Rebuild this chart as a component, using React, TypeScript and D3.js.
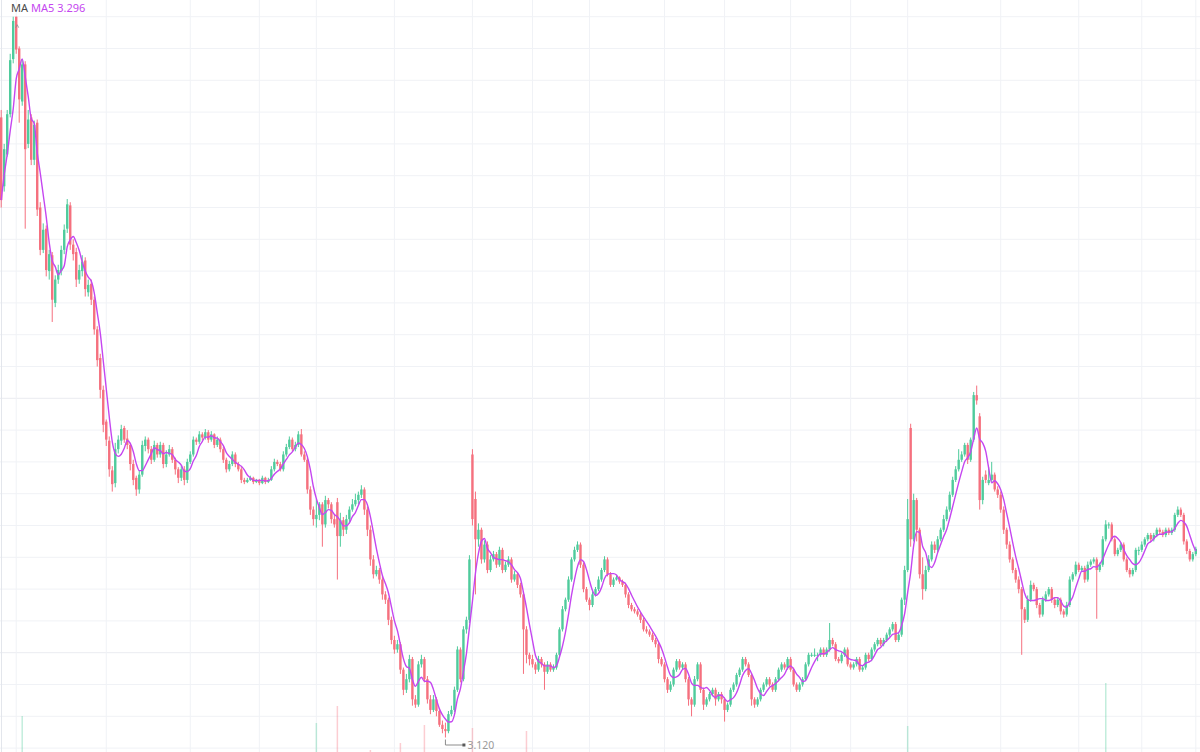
import React from 'react';
import * as d3 from 'd3';

// Prices are stored in thousandths above PRICE_BASE (e.g. 705 -> 3.705)
const PRICE_BASE = 3;

const opens = [
  705,640,670,708,760,800,770,720,755,680,
  705,665,700,620,580,600,560,575,530,552,
  560,580,600,622,585,578,552,560,570,540,
  548,533,505,478,448,418,400,372,360,392,
  400,412,402,396,378,365,354,368,395,401,
  392,382,396,387,396,378,387,392,382,373,
  365,373,363,380,387,401,399,406,403,408,
  401,406,396,401,392,382,373,378,387,378,
  373,363,361,363,365,361,363,360,365,361,
  363,373,380,378,373,387,394,401,392,396,
  406,387,382,354,335,326,330,340,321,344,
  340,326,342,310,325,316,326,335,340,344,
  349,354,335,316,288,274,278,269,255,250,
  231,212,203,208,184,165,175,194,156,151,
  189,194,175,156,146,156,145,132,128,126,
  142,146,165,203,175,222,231,387,345,307,
  316,288,302,278,288,293,283,297,278,283,
  288,269,274,264,255,222,198,194,189,184,
  194,189,182,189,184,186,198,222,241,250,
  269,288,297,302,283,260,250,245,255,260,
  269,278,288,274,264,269,271,267,264,255,
  245,241,239,236,231,222,220,217,212,208,
  194,189,175,165,170,184,192,186,189,175,
  156,151,175,189,165,151,156,161,165,156,
  161,156,146,151,165,170,179,184,194,189,
  179,156,151,156,165,170,175,170,165,175,
  184,189,186,194,184,170,165,170,175,189,
  198,198,198,198,203,198,203,212,208,194,
  192,198,203,189,186,189,194,184,186,198,
  194,203,208,212,208,212,217,222,227,212,
  217,250,278,412,307,344,316,274,260,278,
  288,302,297,307,316,326,335,349,363,373,
  382,387,396,382,401,443,423,344,368,360,
  363,368,354,349,335,316,302,288,278,269,
  260,241,231,250,264,260,245,236,250,255,
  260,250,245,250,239,236,245,269,274,283,
  278,280,269,283,286,288,278,283,307,321,
  321,307,293,297,302,288,278,274,278,297,
  297,302,307,311,307,311,316,314,311,316,
  313,316,330,335,330,305,296,288,293,
];

const highs = [
  712,680,712,765,800,800,772,760,758,712,
  708,702,703,625,605,603,580,578,556,566,
  584,604,628,625,590,582,566,575,573,552,
  552,536,508,482,452,420,404,376,398,405,
  415,414,410,398,382,367,372,400,404,403,
  395,400,398,399,398,391,396,394,384,375,
  377,376,383,390,404,403,409,408,411,410,
  409,407,404,403,394,384,381,390,389,380,
  375,365,365,367,366,364,364,367,366,365,
  376,383,382,380,390,397,404,403,399,409,
  411,390,384,357,338,345,342,342,348,346,
  342,330,346,332,328,330,338,345,350,352,
  358,356,338,320,292,282,280,272,258,252,
  234,216,212,210,186,180,198,196,160,192,
  198,196,178,160,160,158,148,136,134,145,
  150,168,206,205,225,234,292,392,352,322,
  318,306,305,292,296,295,300,299,286,291,
  290,277,276,266,258,225,200,198,191,197,
  196,191,192,191,189,200,224,244,252,272,
  290,300,305,304,285,262,252,258,262,272,
  280,291,290,276,271,273,272,269,266,257,
  247,243,241,238,233,225,222,219,214,210,
  196,191,177,173,186,194,194,191,191,177,
  158,178,191,191,167,158,163,167,167,163,
  163,158,153,167,172,181,186,196,196,191,
  181,158,158,167,172,177,177,172,177,186,
  191,191,196,196,186,172,172,177,191,200,
  200,204,200,205,205,205,228,214,210,196,
  200,205,205,191,191,196,196,188,200,200,
  205,210,214,214,214,219,224,229,229,219,
  252,282,345,416,350,346,318,290,282,292,
  305,305,310,318,330,338,352,366,376,392,
  390,398,398,403,446,452,426,366,372,375,
  380,370,357,352,338,318,305,290,280,272,
  262,243,254,268,266,262,247,253,258,262,
  262,252,252,252,241,248,272,276,286,285,
  282,282,286,288,290,290,285,310,325,323,
  323,309,299,304,304,290,280,280,299,300,
  305,309,313,313,313,318,318,316,318,318,
  318,332,338,337,332,307,298,295,300,
];

const lows = [
  620,635,668,705,756,765,700,716,600,676,
  660,660,612,575,577,555,552,512,526,548,
  556,576,596,580,570,545,548,555,536,536,
  528,500,470,440,408,395,366,352,356,388,
  396,398,392,372,358,348,350,366,390,388,
  378,380,384,384,374,375,385,379,368,360,
  362,358,360,378,385,396,397,400,401,398,
  399,393,394,389,379,370,371,376,375,371,
  360,359,360,362,359,360,358,359,359,360,
  362,371,376,371,371,385,392,390,390,394,
  385,380,350,330,320,318,325,300,318,336,
  322,318,269,300,310,312,322,333,338,340,
  346,330,310,282,270,272,265,250,246,226,
  208,199,200,180,160,162,172,150,148,149,
  186,172,152,142,144,140,130,124,120,124,
  140,144,163,172,173,218,228,320,255,300,
  284,285,275,276,286,280,281,275,276,281,
  266,267,261,252,180,190,188,186,180,182,
  186,165,180,182,182,184,196,220,239,248,
  267,286,295,280,257,248,240,243,253,258,
  267,276,272,262,262,268,265,262,252,242,
  239,237,234,228,220,218,215,210,205,190,
  187,172,162,163,168,182,184,184,172,150,
  140,149,173,162,146,149,154,159,150,154,
  152,135,144,149,163,168,177,182,187,177,
  150,148,149,154,163,168,168,163,163,173,
  182,184,184,182,168,163,163,168,173,187,
  196,196,192,196,196,196,201,206,192,190,
  190,196,187,184,184,187,182,182,184,192,
  192,201,206,206,206,210,215,220,210,210,
  215,245,276,300,305,305,270,250,258,276,
  286,294,295,305,314,324,333,347,361,371,
  380,385,378,380,399,434,335,340,360,358,
  361,352,346,332,312,298,285,275,266,256,
  198,228,229,248,258,242,233,234,248,253,
  247,242,243,236,233,234,243,267,272,276,
  276,266,267,281,284,232,276,281,305,317,
  305,291,291,295,286,276,271,272,276,292,
  295,300,305,305,305,309,312,309,309,311,
  311,314,328,328,302,293,286,286,291,
];

const closes = [
  627,675,708,759,796,769,722,755,675,703,
  665,698,618,580,599,561,576,533,552,561,
  580,599,623,585,576,552,561,569,543,547,
  533,505,476,448,415,401,373,359,392,401,
  411,401,396,378,363,354,368,396,401,392,
  382,396,387,396,378,387,392,382,373,365,
  373,363,380,387,401,399,406,403,408,401,
  406,396,401,392,382,373,378,387,378,373,
  363,361,363,365,361,363,360,365,361,363,
  373,380,378,373,387,394,401,392,396,406,
  387,382,354,335,326,330,340,321,344,340,
  326,321,310,325,316,326,335,340,344,349,
  354,335,316,288,274,278,269,255,250,231,
  212,203,208,184,165,175,194,156,151,189,
  194,175,156,146,156,145,132,128,126,142,
  146,165,203,175,222,231,288,326,307,316,
  288,302,278,288,293,283,297,278,283,288,
  269,274,264,255,222,198,194,189,184,194,
  189,182,189,184,186,198,222,241,250,269,
  288,297,302,283,260,250,245,255,260,269,
  278,288,274,264,269,271,267,264,255,245,
  241,239,236,231,222,220,217,212,208,194,
  189,175,165,170,184,192,186,189,175,156,
  151,175,189,165,151,156,161,165,156,161,
  156,146,151,165,170,179,184,194,189,179,
  156,151,156,165,170,175,170,165,175,184,
  189,186,194,184,170,165,170,175,189,198,
  198,198,198,203,198,203,212,208,194,192,
  198,203,189,186,189,194,184,186,198,194,
  203,208,212,208,212,217,222,227,212,217,
  250,278,326,307,344,316,274,260,278,288,
  302,297,307,316,326,335,349,363,373,382,
  387,396,382,401,443,438,344,363,363,363,
  368,354,349,335,316,302,288,278,269,260,
  241,231,250,264,260,245,236,250,255,260,
  250,245,250,239,236,245,269,274,283,278,
  280,269,283,286,288,278,283,307,321,321,
  307,293,297,302,288,278,274,278,297,297,
  302,307,311,307,311,316,314,311,316,313,
  316,330,335,330,305,296,288,293,298,
];

const gridPrices = [
  3.11, 3.14, 3.17, 3.2, 3.23, 3.26, 3.29, 3.32, 3.35, 3.38, 3.41, 3.44,
  3.47, 3.5, 3.53, 3.56, 3.59, 3.62, 3.65, 3.68, 3.71, 3.74, 3.77, 3.8,
];
const strongGridPrices = [3.2, 3.44];
const gridCandles = [5, 35, 63, 86, 105, 131, 157, 177, 196, 221, 241, 263, 283, 302, 333, 359, 380, 398];

const volumeIndex = [7, 105, 112, 123, 133, 141, 157, 175, 302, 368];
const volumeValue = [36, 29, 46, 2, 9, 27, 24, 21, 26, 69];

const UP = '#4fcb9c';
const DOWN = '#f5707e';
const MA_COLOR = '#c546f0';

const toPrice = (v: number) => PRICE_BASE + v / 1000;

export default function App() {
  const W = 1200;
  const H = 752;
  const n = closes.length;

  const x = d3.scaleBand<number>().domain(d3.range(n)).range([0, 1197]).paddingInner(0.2);
  const y = d3.scaleLinear().domain([3.11, 3.8]).range([748.1, 16.7]);
  const vy = d3.scaleLinear().domain([0, 70]).range([H, H - 70]);
  const bw = x.bandwidth();
  const cx = (i: number) => (x(i) as number) + bw / 2;

  const ma5 = closes.map((_, i) => {
    const s = closes.slice(Math.max(0, i - 4), i + 1);
    return toPrice(d3.mean(s) as number);
  });
  const maLine = d3
    .line<number>()
    .x((_, i) => cx(i))
    .y((d) => y(d))
    .curve(d3.curveMonotoneX);

  const lastMa = ma5[n - 1];
  const minIdx = d3.minIndex(lows);
  const minLow = toPrice(lows[minIdx]);
  const maxIdx = d3.maxIndex(highs);
  const maxHigh = toPrice(highs[maxIdx]);

  const isUp = (i: number) => closes[i] >= opens[i];

  return (
    <svg
      width={W}
      height={H}
      style={{ position: 'fixed', left: 0, top: 0, background: '#fff', display: 'block' }}
      fontFamily="'Noto Sans', 'Open Sans', sans-serif"
    >
      <rect width={W} height={H} fill="#fff" />
      {/* horizontal grid */}
      {gridPrices.map((p) => (
        <line
          key={'h' + p}
          x1={0}
          x2={W}
          y1={y(p)}
          y2={y(p)}
          stroke={strongGridPrices.includes(p) ? '#eaecf1' : '#f0f2f6'}
          strokeWidth={1}
        />
      ))}
      {/* vertical grid */}
      {gridCandles.map((i) => (
        <line key={'v' + i} x1={cx(i)} x2={cx(i)} y1={0} y2={H} stroke="#f0f2f6" strokeWidth={1} />
      ))}
      <line x1={1.5} x2={1.5} y1={0} y2={H} stroke="#e3e6ec" strokeWidth={1} />

      {/* volume */}
      {volumeIndex.map((i, k) => (
        <rect
          key={'vol' + i}
          x={cx(i) - 0.75}
          width={1.5}
          y={vy(volumeValue[k])}
          height={H - vy(volumeValue[k])}
          fill={isUp(i) ? UP : DOWN}
          opacity={0.35}
        />
      ))}

      {/* candles */}
      {closes.map((c, i) => {
        const o = toPrice(opens[i]);
        const cl = toPrice(c);
        const hi = toPrice(highs[i]);
        const lo = toPrice(lows[i]);
        const col = isUp(i) ? UP : DOWN;
        const top = y(Math.max(o, cl));
        const h = Math.max(1, Math.abs(y(o) - y(cl)));
        return (
          <g key={'c' + i}>
            <line x1={cx(i)} x2={cx(i)} y1={y(hi)} y2={y(lo)} stroke={col} strokeWidth={1} />
            <rect x={x(i)} y={top} width={bw} height={h} fill={col} />
          </g>
        );
      })}

      {/* MA5 line */}
      <path d={maLine(ma5) || ''} fill="none" stroke={MA_COLOR} strokeWidth={1.4} />

      {/* min marker */}
      <path
        d={`M${cx(minIdx)},${y(minLow) + 2} V${745} H${cx(minIdx) + 19}`}
        fill="none"
        stroke="#8c8c8c"
        strokeWidth={1}
      />
      <rect x={cx(minIdx) + 17} y={743.5} width={3} height={3} fill="#595959" />
      <text x={cx(minIdx) + 22} y={749} fontSize={10.5} fill="#9a9a9a">
        {minLow.toFixed(3)}
      </text>

      {/* max marker (label clipped above) */}
      <path
        d={`M${cx(maxIdx) + 2.5},${y(maxHigh) + 11} l1.5,-3 l1.5,3`}
        fill="none"
        stroke="#8c8c8c"
        strokeWidth={0.8}
      />

      {/* legend */}
      <text x={11} y={12} fontSize={11} fill="#4a4a4a">
        MA
      </text>
      <text x={31} y={12} fontSize={11} fill={MA_COLOR}>
        {'MA5 ' + lastMa.toFixed(3)}
      </text>
    </svg>
  );
}
